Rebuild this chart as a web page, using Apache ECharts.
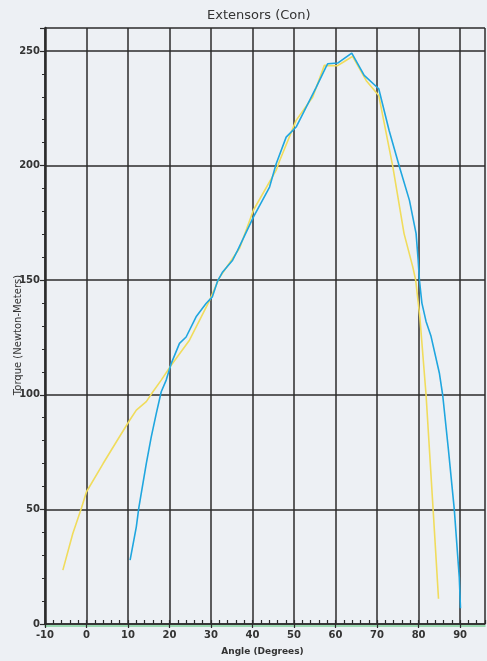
<!DOCTYPE html>
<html>
<head>
<meta charset="utf-8">
<script src="https://cdn.jsdelivr.net/npm/echarts@6/dist/echarts.min.js"></script>
<style>
html,body{margin:0;padding:0;background:#edf0f4;}
#chart{width:487px;height:661px;}
</style>
</head>
<body>
<div id="chart"></div>
<script>
// Yellow trial: angle (degrees) and torque (N·m)
var yellowAngle  = [-5.7, -3.3, -1.2, 0.0, 4.0, 7.2, 10.4, 12.0, 14.4, 16.0, 18.0, 20.4, 24.8, 29.6, 32.0, 36.9, 40.2, 45.7, 46.5, 50.5, 54.5, 57.3, 60.4, 62.2, 64.1, 67.4, 70.4, 73.8, 76.5, 78.6, 79.3, 80.3, 81.8, 83.5, 84.8];
var yellowTorque = [23.5, 39.5, 50.7, 57.7, 70.0, 79.5, 88.9, 93.3, 97.0, 101.3, 106.4, 112.9, 123.8, 141.0, 151.0, 164.0, 180.5, 198.0, 202.0, 219.7, 229.9, 243.7, 243.5, 245.5, 247.6, 237.0, 230.6, 199.4, 170.3, 155.8, 150.0, 134.0, 100.0, 50.0, 11.0];
// Blue trial
var blueAngle  = [10.5, 12.0, 12.6, 14.4, 15.6, 16.8, 18.0, 19.2, 20.4, 22.4, 24.0, 26.4, 28.8, 30.3, 31.6, 32.8, 35.2, 36.4, 40.2, 44.1, 45.7, 48.1, 50.5, 55.3, 57.7, 58.1, 60.5, 63.9, 66.9, 70.4, 72.9, 75.4, 77.8, 79.4, 79.9, 80.2, 80.8, 81.8, 83.0, 85.0, 85.8, 87.2, 88.6, 89.8, 90.1];
var blueTorque = [27.9, 42.4, 50.7, 70.0, 81.6, 91.8, 101.3, 106.4, 113.6, 122.4, 125.2, 134.0, 139.8, 142.7, 149.7, 153.6, 158.7, 163.0, 177.5, 190.6, 200.8, 212.4, 216.8, 234.0, 243.0, 244.4, 244.7, 249.0, 239.3, 233.5, 215.3, 199.4, 184.8, 170.3, 158.7, 150.0, 140.0, 132.0, 125.5, 109.5, 100.0, 75.8, 50.0, 20.4, 6.9];

var titleText = 'Extensors (Con)';
var xName = 'Angle (Degrees)';
var yName = 'Torque (Newton-Meters)';

function pairs(xs, ys){ return xs.map(function(x,i){ return [x, ys[i]]; }); }

var lineCol = '#2b2b2b';
var chart = echarts.init(document.getElementById('chart'));
chart.setOption({
  backgroundColor: '#edf0f4',
  animation: false,
  title: {
    text: titleText, left: 202, top: 4,
    textStyle: {fontFamily: 'DejaVu Sans', fontSize: 13, fontWeight: 'normal', color: '#333'}
  },
  grid: {left: 45, right: 2, top: 28, bottom: 37, containLabel: false, outerBoundsMode: 'none'},
  xAxis: [{
    type: 'value', min: -10, max: 96, interval: 10, position: 'bottom',
    name: xName, nameLocation: 'middle', nameGap: 23, nameMoveOverlap: false,
    nameTextStyle: {fontFamily: 'DejaVu Sans', fontSize: 9, fontWeight: 'bold', color: '#333', padding: [0, 5, 0, 0]},
    axisLine: {show: true, onZero: false, lineStyle: {color: lineCol, width: 1.5, shadowColor: '#7fcf9a', shadowOffsetY: 2, shadowBlur: 0}},
    axisTick: {show: true, length: 4, inside: false, lineStyle: {color: lineCol, width: 1.2}},
    axisLabel: {showMaxLabel: false, margin: 6, fontFamily: 'DejaVu Sans', fontSize: 10, fontWeight: 'bold', color: '#333'},
    splitLine: {show: true, lineStyle: {color: lineCol, width: 1.5}}
  }, {
    type: 'value', min: -10, max: 96, interval: 2, position: 'bottom',
    axisLine: {show: false, onZero: false},
    axisTick: {show: true, inside: true, length: 4, lineStyle: {color: lineCol, width: 1.2}},
    axisLabel: {show: false},
    splitLine: {show: false}
  }],
  yAxis: {
    type: 'value', min: 0, max: 260, interval: 50,
    name: yName, nameLocation: 'middle', nameGap: 22, nameRotate: 90, nameMoveOverlap: false,
    nameTextStyle: {fontFamily: 'DejaVu Sans', fontSize: 10, color: '#333', padding: [0, 18, 0, 0]},
    axisLine: {show: true, onZero: false, lineStyle: {color: lineCol, width: 2.5}},
    axisTick: {show: true, length: 5, lineStyle: {color: lineCol, width: 1.2}},
    minorTick: {show: true, splitNumber: 5, length: 3, lineStyle: {color: lineCol, width: 1}},
    axisLabel: {showMaxLabel: false, margin: 5, fontFamily: 'DejaVu Sans', fontSize: 10, fontWeight: 'bold', color: '#333'},
    splitLine: {show: true, lineStyle: {color: lineCol, width: 1.5}}
  },
  series: [{
    type: 'line', xAxisIndex: 0, data: pairs(yellowAngle, yellowTorque),
    showSymbol: false, smooth: false,
    lineStyle: {color: '#f0dc5c', width: 1.6}
  }, {
    type: 'line', xAxisIndex: 0, data: pairs(blueAngle, blueTorque),
    showSymbol: false, smooth: false,
    lineStyle: {color: '#1fa6df', width: 1.6}
  }]
});
</script>
</body>
</html>
